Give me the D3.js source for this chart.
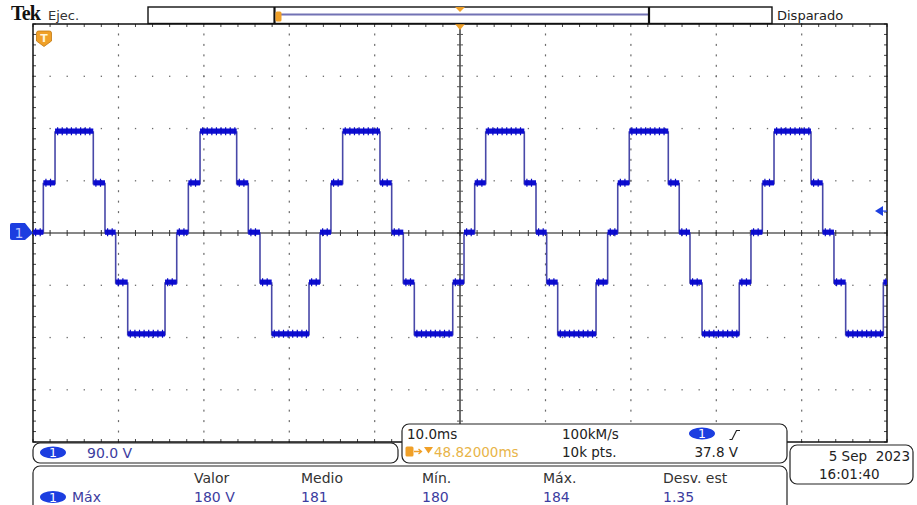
<!DOCTYPE html>
<html>
<head>
<meta charset="utf-8">
<script src="https://cdn.jsdelivr.net/npm/d3@7"></script>
<style>
  body { margin: 0; background: #fff; }
  text { font-family: "DejaVu Sans", sans-serif; }
</style>
</head>
<body>
<div id="scope"></div>
<script>
// step edges of the channel 1 trace (time in ms, level in V)
const edgeTimes = [-50, -48.79, -47.42, -42.94, -41.57, -40.32, -38.91, -34.54, -33.17,
  -31.81, -30.44, -26.15, -24.79, -23.42, -22.05, -17.68, -16.39, -15.11, -13.74,
  -9.37, -8.0, -6.64, -5.35, -0.85, 0.47, 1.72, 3.01, 7.53, 8.9, 10.15, 11.44,
  15.93, 17.29, 18.47, 19.82, 24.39, 25.67, 26.93, 28.34, 32.7, 34.07, 35.4,
  36.77, 41.1, 42.47, 43.79, 45.16, 49.57, 50];
const edgeLevels = [0, 85, 174, 85, 0, -86, -175, -86, 0,
  85, 174, 85, 0, -86, -175, -86, 0, 85, 174,
  85, 0, -86, -175, -86, 0, 85, 174, 85, 0, -86, -175,
  -86, 0, 85, 174, 85, 0, -86, -175, -86, 0, 85,
  174, 85, 0, -86, -175, -86, -86];

const timeDomain = [-50, 50];      // 10 div x 10.0 ms
const voltDomain = [-360, 360];    // 8 div x 90.0 V
const triggerLevel = 37.8;

const measHeaders = ["Valor", "Medio", "Mín.", "Máx.", "Desv. est"];
const measValues = ["180 V", "181", "180", "184", "1.35"];

let W = 917, H = 505;
let plot = { left: 33, right: 887, top: 24, bottom: 442 };

const svg = d3.select("#scope").append("svg")
  .attr("width", W).attr("height", H);

let x = d3.scaleLinear().domain(timeDomain).range([plot.left, plot.right]);
let y = d3.scaleLinear().domain(voltDomain).range([plot.bottom, plot.top]);

let majorT = d3.range(-50, 50.01, 10);
let minorT = d3.range(-50, 50.01, 2);
let majorV = d3.range(-360, 360.01, 90);
let minorV = d3.range(-360, 360.01, 18);

// ---- graticule ----
let grid = svg.append("g");

// dotted vertical division lines
majorT.filter(t => t !== 0 && Math.abs(t) !== 50).forEach(t => {
  grid.selectAll(null).data(minorV).join("rect")
    .attr("x", x(t) - 0.5).attr("y", d => y(d) - 1)
    .attr("width", 1.2).attr("height", 2)
    .attr("fill", "#6a6a6a");
});
// dotted horizontal division lines
majorV.filter(v => v !== 0 && Math.abs(v) !== 360).forEach(v => {
  grid.selectAll(null).data(minorT).join("rect")
    .attr("x", d => x(d) - 0.6).attr("y", y(v) - 0.6)
    .attr("width", 1.3).attr("height", 1.3)
    .attr("fill", "#6a6a6a");
});

// centre lines
grid.append("line")
  .attr("x1", x(0)).attr("x2", x(0)).attr("y1", plot.top).attr("y2", plot.bottom)
  .attr("stroke", "#6e6e6e").attr("stroke-width", 2);
grid.selectAll(null).data(minorV).join("line")
  .attr("x1", x(0) - 3).attr("x2", x(0) + 3)
  .attr("y1", d => y(d)).attr("y2", d => y(d))
  .attr("stroke", "#555").attr("stroke-width", 1);
grid.append("line")
  .attr("x1", plot.left).attr("x2", plot.right).attr("y1", y(0)).attr("y2", y(0))
  .attr("stroke", "#111").attr("stroke-width", 1.2);
grid.selectAll(null).data(minorT).join("line")
  .attr("x1", d => x(d)).attr("x2", d => x(d))
  .attr("y1", y(0) - 3).attr("y2", y(0) + 3)
  .attr("stroke", "#333").attr("stroke-width", 1);

// border ticks
grid.selectAll(null).data(minorT).join("line")
  .attr("x1", d => x(d)).attr("x2", d => x(d))
  .attr("y1", plot.top).attr("y2", plot.top + 3)
  .attr("stroke", "#444");
grid.selectAll(null).data(minorT).join("line")
  .attr("x1", d => x(d)).attr("x2", d => x(d))
  .attr("y1", plot.bottom - 3).attr("y2", plot.bottom)
  .attr("stroke", "#444");
grid.selectAll(null).data(minorV).join("line")
  .attr("x1", plot.left).attr("x2", plot.left + 3)
  .attr("y1", d => y(d)).attr("y2", d => y(d))
  .attr("stroke", "#444");
grid.selectAll(null).data(minorV).join("line")
  .attr("x1", plot.right - 3).attr("x2", plot.right)
  .attr("y1", d => y(d)).attr("y2", d => y(d))
  .attr("stroke", "#444");

// frame
grid.append("rect")
  .attr("x", plot.left).attr("y", plot.top)
  .attr("width", plot.right - plot.left).attr("height", plot.bottom - plot.top)
  .attr("fill", "none").attr("stroke", "#111").attr("stroke-width", 1.5);

// ---- trace ----
let trace = edgeTimes.map((t, i) => ({ t: t, v: edgeLevels[i] }));
let plateaus = trace.slice(0, -1).map((d, i) => ({ t0: d.t, t1: trace[i + 1].t, v: d.v }));

let line = d3.line().x(d => x(d.t)).y(d => y(d.v)).curve(d3.curveStepAfter);

svg.append("path")
  .datum(trace)
  .attr("d", line)
  .attr("fill", "none")
  .attr("stroke", "#4848a8")
  .attr("stroke-width", 1.6);

// noisy plateau band
svg.selectAll(".band").data(plateaus).join("line")
  .attr("class", "band")
  .attr("x1", d => x(d.t0)).attr("x2", d => x(d.t1))
  .attr("y1", d => y(d.v) - 0.8).attr("y2", d => y(d.v) - 0.8)
  .attr("stroke", "#0c0cd2").attr("stroke-width", 5.2);
svg.selectAll(".spikes").data(plateaus).join("line")
  .attr("class", "spikes")
  .attr("x1", d => x(d.t0) + 2).attr("x2", d => x(d.t1) - 1)
  .attr("y1", d => y(d.v) - 0.8).attr("y2", d => y(d.v) - 0.8)
  .attr("stroke", "#0a0ac4").attr("stroke-width", 8)
  .attr("stroke-dasharray", "1.2,3.4");

// ---- markers ----
// channel 1 ground marker
let gy = y(0);
svg.append("path")
  .attr("d", `M10,${gy - 8} Q10,${gy - 10} 12,${gy - 10} L25,${gy - 10} L33,${gy} L25,${gy + 7} L12,${gy + 7} Q10,${gy + 7} 10,${gy + 5} Z`)
  .attr("fill", "#1c3ee0");
svg.append("text").attr("x", 19).attr("y", gy + 4.5)
  .attr("text-anchor", "middle").attr("font-size", 14)
  .attr("fill", "#b8c4ff").text("1");

// trigger level arrow
let ty = y(triggerLevel);
svg.append("path")
  .attr("d", `M875,${ty} L883,${ty - 5} L883,${ty + 5} Z`)
  .attr("fill", "#1c3ee0");
svg.append("line").attr("x1", 883).attr("x2", plot.right).attr("y1", ty).attr("y2", ty)
  .attr("stroke", "#1c3ee0").attr("stroke-width", 1.2);

// trigger position marker (orange shield)
svg.append("path")
  .attr("d", "M36.5,33 Q36.5,31 38.5,31 L49.5,31 Q51.5,31 51.5,33 L51.5,41 L44,46.5 L36.5,41 Z")
  .attr("fill", "#f0a028").attr("stroke", "#c07810").attr("stroke-width", 0.8);
svg.append("text").attr("x", 44).attr("y", 42)
  .attr("text-anchor", "middle").attr("font-size", 11).attr("font-weight", "bold")
  .attr("fill", "#fff4d8").text("T");

// orange triangle at the horizontal position
svg.append("path").attr("d", `M${x(0) - 5},24 L${x(0) + 5},24 L${x(0)},30 Z`).attr("fill", "#f0a028");

// ---- header ----
svg.append("text").attr("x", 11).attr("y", 20)
  .style("font-family", "'Liberation Serif', 'DejaVu Serif', serif").attr("font-weight", "bold")
  .attr("font-size", 20).attr("letter-spacing", -0.8).attr("fill", "#111").text("Tek");
svg.append("text").attr("x", 48).attr("y", 20)
  .attr("font-size", 13).attr("fill", "#333").text("Ejec.");

svg.append("rect").attr("x", 148).attr("y", 7).attr("width", 624).attr("height", 16.5)
  .attr("fill", "#fff").attr("stroke", "#111").attr("stroke-width", 1.4);
svg.append("line").attr("x1", 279).attr("x2", 649).attr("y1", 14.5).attr("y2", 14.5)
  .attr("stroke", "#7272b4").attr("stroke-width", 2);
svg.append("line").attr("x1", 274.5).attr("x2", 274.5).attr("y1", 7).attr("y2", 23.5)
  .attr("stroke", "#111").attr("stroke-width", 2.2);
svg.append("line").attr("x1", 649).attr("x2", 649).attr("y1", 7).attr("y2", 23.5)
  .attr("stroke", "#111").attr("stroke-width", 2.2);
svg.append("rect").attr("x", 275.5).attr("y", 11.5).attr("width", 6).attr("height", 10).attr("rx", 1.5)
  .attr("fill", "#f0a028");
svg.append("path").attr("d", `M${x(0) - 5},7 L${x(0) + 5},7 L${x(0)},12 Z`).attr("fill", "#f0a028");
svg.append("text").attr("x", 777).attr("y", 20)
  .attr("font-size", 13).attr("fill", "#222").text("Disparado");

// ---- bottom panels ----
function panel(x0, y0, w, h) {
  svg.append("rect").attr("x", x0).attr("y", y0).attr("width", w).attr("height", h)
    .attr("rx", 7).attr("fill", "#fff").attr("stroke", "#222").attr("stroke-width", 1.2);
}
function pill(cx, cy) {
  svg.append("ellipse").attr("cx", cx).attr("cy", cy).attr("rx", 13).attr("ry", 6)
    .attr("fill", "#1c3ee0");
  svg.append("text").attr("x", cx).attr("y", cy + 4.5).attr("text-anchor", "middle")
    .attr("font-size", 12.5).attr("fill", "#fff").text("1");
}
function label(tx, ty, s, col, size) {
  return svg.append("text").attr("x", tx).attr("y", ty)
    .attr("font-size", size || 13.5).attr("fill", col || "#222").text(s);
}

panel(33, 443, 365, 20);
pill(53, 452.5);
label(87, 458, "90.0 V", "#3c3ca0", 14);

panel(402, 424, 385, 39);
label(407, 439, "10.0ms", "#222");
svg.append("rect").attr("x", 405.5).attr("y", 446.5).attr("width", 8).attr("height", 10).attr("rx", 1.5)
  .attr("fill", "#f0a028");
svg.append("path").attr("d", "M414,451.5 L421,451.5 M418.5,449 L421.5,451.5 L418.5,454")
  .attr("fill", "none").attr("stroke", "#f0a028").attr("stroke-width", 1.3);
svg.append("path").attr("d", "M424,447 L433,447 L428.5,453.5 Z").attr("fill", "#f0a028");
label(434, 457, "48.82000ms", "#e8b448");
label(562, 439, "100kM/s", "#222");
label(562, 457, "10k pts.", "#222");
pill(702, 433.5);
svg.append("path").attr("d", "M729.5,439.5 L732,439.5 L736.5,430.5 L740,430.5")
  .attr("fill", "none").attr("stroke", "#222").attr("stroke-width", 1.2);
label(738, 457, "37.8 V", "#222").attr("text-anchor", "end");

panel(790, 445, 123, 39);
label(910, 461, "5 Sep  2023", "#222").attr("text-anchor", "end")
  .style("white-space", "pre");
label(819, 479, "16:01:40", "#222");

panel(33, 466, 754, 50);
let colX = [194, 301, 422, 543, 663];
svg.selectAll(".mh").data(measHeaders).join("text")
  .attr("class", "mh")
  .attr("x", (d, i) => colX[i]).attr("y", 482.5)
  .attr("font-size", 14).attr("fill", "#333").text(d => d);
svg.selectAll(".mv").data(measValues).join("text")
  .attr("class", "mv")
  .attr("x", (d, i) => colX[i]).attr("y", 501.5)
  .attr("font-size", 14).attr("fill", "#3c3ca0").text(d => d);
pill(53, 497);
label(72, 501.5, "Máx", "#3c3ca0", 14);
</script>
</body>
</html>
